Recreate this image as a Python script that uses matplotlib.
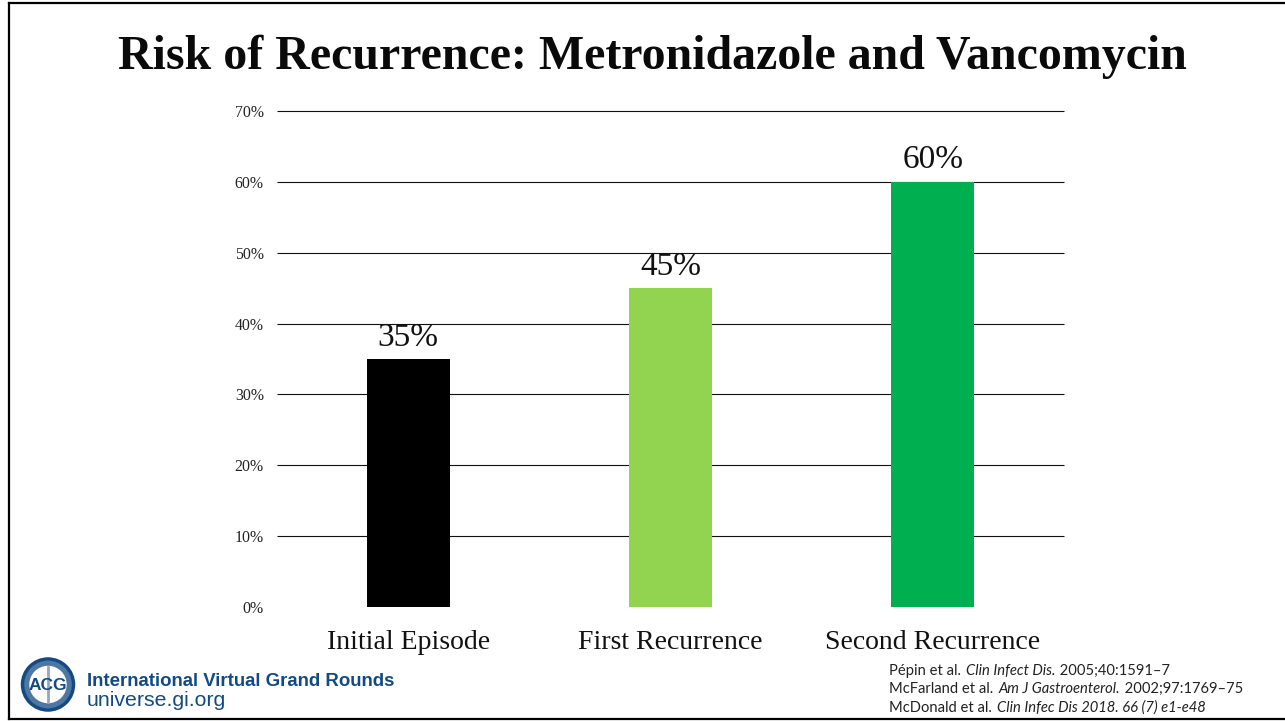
import matplotlib
matplotlib.use('Agg')
import matplotlib.pyplot as plt
from matplotlib.lines import Line2D
from matplotlib.patches import Circle

categories = ['Initial Episode', 'First Recurrence', 'Second Recurrence']
values = [35, 45, 60]
colors = ['#000000', '#92D450', '#00B050']
yticks = [0, 10, 20, 30, 40, 50, 60, 70]

# each reference: plain part, italic part, plain part
ref_lines = [
    ('Pépin et al. ', 'Clin Infect Dis.', ' 2005;40:1591–7'),
    ('McFarland et al. ', 'Am J Gastroenterol.', ' 2002;97:1769–75'),
    ('McDonald et al. ', 'Clin Infec Dis 2018. 66 (7) e1-e48', ''),
]

W, H = 1285, 721
SERIF = 'Liberation Serif'
SANS = 'Liberation Sans'
BLUE = '#134a85'

fig = plt.figure(figsize=(W / 100, H / 100), dpi=100, facecolor='white')

ax = fig.add_axes([277 / W, 1 - 607 / H, (1064 - 277) / W, (607 - 111) / H])
ax.hlines(yticks[1:], -0.5, 2.5, color='#111111', lw=0.8, zorder=1, clip_on=False)
ax.bar(range(3), values, width=0.317, color=colors, zorder=3)
ax.set_xlim(-0.5, 2.5)
ax.set_ylim(0, 70)
ax.set_yticks(yticks)
ax.set_yticklabels([f'{v}%' for v in yticks], family=SERIF, fontsize=11.4, color='#222222')
ax.set_xticks(range(3))
ax.set_xticklabels(categories, family=SERIF, fontsize=20, color='#111111')
ax.tick_params(axis='y', length=0, pad=9.5)
ax.tick_params(axis='x', length=0, pad=16.5)
for s in ['top', 'left', 'right', 'bottom']:
    ax.spines[s].set_visible(False)
for i, v in enumerate(values):
    ax.text(i, v + 0.9, f'{v}%', ha='center', va='bottom', family=SERIF, fontsize=24, color='#111111')

# slide frame, no right edge in the picture
frame = [([8.5, 8.5], [3, 719]), ([8.5, 1285], [3, 3]), ([8.5, 1285], [719, 719])]
for xs, ys in frame:
    fig.add_artist(Line2D([x / W for x in xs], [1 - y / H for y in ys], color='black', lw=1.6))

fig.text(652 / W, 1 - 57 / H, 'Risk of Recurrence: Metronidazole and Vancomycin',
         ha='center', va='center', family=SERIF, fontweight='bold', fontsize=34.5, color='#0a0a0a')

# logo
fig.add_artist(Circle((48, H - 684.5), 25.5, transform=None, fc='white', ec=BLUE, lw=2.5))
fig.add_artist(Circle((48, H - 684.5), 21.5, transform=None, fc='none', ec=BLUE, lw=4, alpha=0.75))
fig.add_artist(Line2D([48 / W, 48 / W], [1 - 667 / H, 1 - 702 / H], color='#9aa7b5', lw=2))
fig.text(48 / W, 1 - 685 / H, 'ACG', ha='center', va='center', family=SANS,
         fontweight='bold', fontsize=12.5, color=BLUE)
fig.text(87 / W, 1 - 681 / H, 'International Virtual Grand Rounds', ha='left', va='center',
         family=SANS, fontweight='bold', fontsize=13.4, color=BLUE)
fig.text(87 / W, 1 - 700 / H, 'universe.gi.org', ha='left', va='center',
         family=SANS, fontsize=15.3, color=BLUE)

# references, pieces laid end to end
renderer = fig.canvas.get_renderer()
for base_y, parts in zip([675, 693, 712], ref_lines):
    x = 889
    for part, style in zip(parts, ['normal', 'italic', 'normal']):
        if not part:
            continue
        t = fig.text(x / W, 1 - base_y / H, part, ha='left', va='baseline', family='Lato',
                     style=style, fontsize=10.6, color='#222222')
        x += t.get_window_extent(renderer).width + 1

fig.savefig('out.png', dpi=100)
